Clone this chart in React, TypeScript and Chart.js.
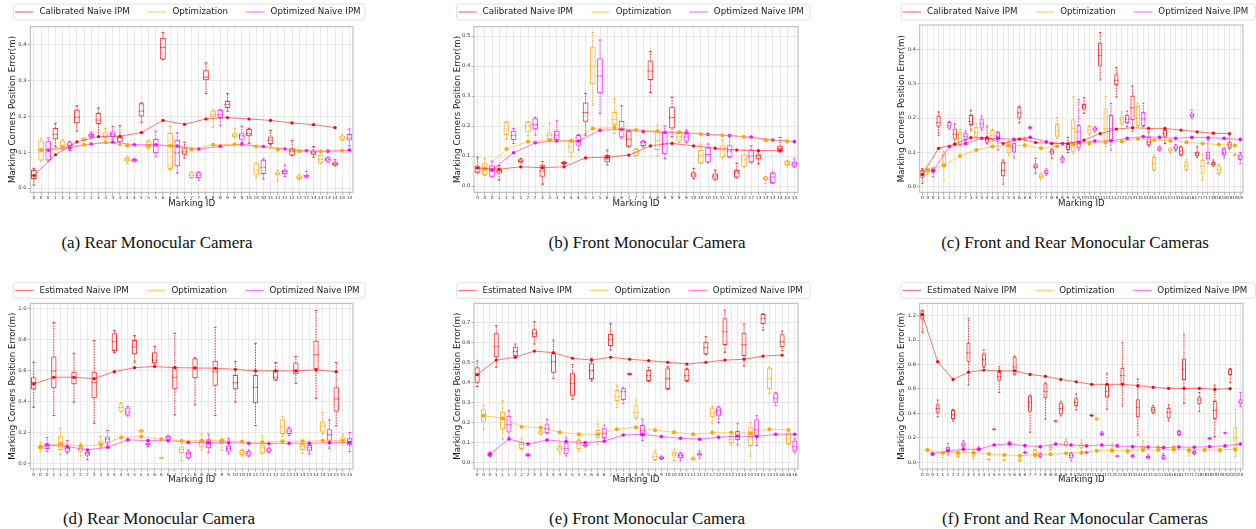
import React, { useEffect, useRef } from "react";
import { Chart, registerables } from "chart.js";

Chart.register(...registerables);

// Each box: [lower whisker, q1, median, q3, upper whisker]
type Box = number[];

// ---------------- series names ----------------
const namesTop = ["Calibrated Naive IPM", "Optimization", "Optimized Naive IPM"];
const namesBottom = ["Estimated Naive IPM", "Optimization", "Optimized Naive IPM"];

// ---------------- (a) Rear Monocular Camera (calibrated) ----------------
const aRedBoxes: Box[] = [
  [0.008, 0.025, 0.035, 0.05, 0.055], [0.115, 0.136, 0.15, 0.168, 0.181], [0.159, 0.181, 0.198, 0.219, 0.23],
  [0.142, 0.179, 0.19, 0.21, 0.224], [0.12, 0.128, 0.14, 0.145, 0.175], [0.184, 0.2, 0.215, 0.237, 0.238],
  [0.359, 0.359, 0.393, 0.42, 0.435], [0.084, 0.093, 0.101, 0.111, 0.128], [0.264, 0.301, 0.31, 0.329, 0.35],
  [0.215, 0.224, 0.234, 0.243, 0.264], [0.125, 0.145, 0.152, 0.165, 0.167], [0.12, 0.123, 0.134, 0.144, 0.161],
  [0.09, 0.091, 0.103, 0.111, 0.133], [0.086, 0.093, 0.098, 0.105, 0.116], [0.062, 0.063, 0.067, 0.072, 0.079],
];
const aRedLine = [0.035, 0.093, 0.129, 0.144, 0.145, 0.155, 0.189, 0.178, 0.193, 0.197, 0.193, 0.189, 0.182, 0.177, 0.169];
const aOrangeBoxes: Box[] = [
  [0.075, 0.077, 0.105, 0.133, 0.139], [0.109, 0.114, 0.12, 0.133, 0.135], [0.132, 0.135, 0.137, 0.139, 0.14],
  [0.137, 0.14, 0.148, 0.156, 0.167], [0.068, 0.074, 0.078, 0.084, 0.089], [0.108, 0.111, 0.12, 0.132, 0.134],
  [0.05, 0.053, 0.117, 0.154, 0.172], [0.027, 0.028, 0.035, 0.044, 0.045], [0.17, 0.198, 0.205, 0.217, 0.218],
  [0.14, 0.142, 0.148, 0.153, 0.167], [0.028, 0.035, 0.05, 0.069, 0.07], [0.02, 0.035, 0.04, 0.044, 0.05],
  [0.023, 0.025, 0.03, 0.035, 0.037], [0.068, 0.069, 0.08, 0.093, 0.1], [0.133, 0.135, 0.14, 0.147, 0.148],
];
const aOrangeLine = [0.106, 0.113, 0.121, 0.128, 0.118, 0.118, 0.118, 0.108, 0.121, 0.122, 0.116, 0.108, 0.103, 0.102, 0.104];
const aMagentaBoxes: Box[] = [
  [0.075, 0.077, 0.108, 0.131, 0.14], [0.105, 0.116, 0.12, 0.128, 0.13], [0.14, 0.142, 0.146, 0.151, 0.156],
  [0.135, 0.142, 0.15, 0.158, 0.172], [0.073, 0.074, 0.077, 0.081, 0.082], [0.089, 0.097, 0.118, 0.137, 0.159],
  [0.042, 0.061, 0.098, 0.135, 0.154], [0.022, 0.028, 0.036, 0.044, 0.045], [0.174, 0.196, 0.205, 0.219, 0.22],
  [0.128, 0.135, 0.146, 0.153, 0.173], [0.025, 0.039, 0.058, 0.079, 0.081], [0.032, 0.039, 0.046, 0.051, 0.064],
  [0.028, 0.03, 0.034, 0.037, 0.047], [0.072, 0.074, 0.08, 0.086, 0.087], [0.118, 0.133, 0.14, 0.151, 0.165],
];
const aMagentaLine = [0.106, 0.113, 0.123, 0.128, 0.121, 0.121, 0.117, 0.109, 0.117, 0.122, 0.116, 0.109, 0.104, 0.103, 0.106];
const aTicks = [0, 0.1, 0.2, 0.3, 0.4];

// ---------------- (b) Front Monocular Camera (calibrated) ----------------
const bRedBoxes: Box[] = [
  [0.044, 0.044, 0.06, 0.068, 0.096], [0.02, 0.042, 0.05, 0.056, 0.068], [0.077, 0.078, 0.083, 0.089, 0.092],
  [0.006, 0.031, 0.05, 0.071, 0.081], [0.072, 0.073, 0.077, 0.08, 0.082], [0.17, 0.214, 0.245, 0.278, 0.309],
  [0.07, 0.079, 0.09, 0.103, 0.12], [0.13, 0.131, 0.156, 0.184, 0.185], [0.312, 0.353, 0.383, 0.418, 0.448],
  [0.164, 0.192, 0.228, 0.264, 0.296], [0.024, 0.028, 0.037, 0.046, 0.059], [0.02, 0.022, 0.033, 0.042, 0.053],
  [0.027, 0.028, 0.044, 0.053, 0.076], [0.073, 0.089, 0.1, 0.106, 0.114], [0.113, 0.114, 0.125, 0.134, 0.162],
];
const bRedLine = [0.06, 0.056, 0.064, 0.061, 0.064, 0.094, 0.096, 0.103, 0.134, 0.142, 0.134, 0.126, 0.12, 0.118, 0.118];
const bOrangeBoxes: Box[] = [
  [0.035, 0.037, 0.053, 0.076, 0.092], [0.156, 0.17, 0.19, 0.214, 0.214], [0.167, 0.181, 0.2, 0.214, 0.215],
  [0.15, 0.153, 0.168, 0.178, 0.209], [0.098, 0.111, 0.13, 0.153, 0.155], [0.27, 0.34, 0.4, 0.464, 0.512],
  [0.176, 0.203, 0.222, 0.247, 0.291], [0.1, 0.1, 0.112, 0.123, 0.125], [0.1, 0.12, 0.152, 0.184, 0.203],
  [0.145, 0.148, 0.164, 0.181, 0.183], [0.075, 0.076, 0.103, 0.12, 0.14], [0.093, 0.096, 0.12, 0.136, 0.153],
  [0.063, 0.064, 0.087, 0.106, 0.118], [0.009, 0.02, 0.025, 0.031, 0.032], [0.067, 0.07, 0.077, 0.083, 0.085],
];
const bOrangeLine = [0.058, 0.123, 0.148, 0.153, 0.15, 0.192, 0.194, 0.187, 0.183, 0.179, 0.173, 0.169, 0.164, 0.153, 0.149];
const bMagentaBoxes: Box[] = [
  [0.03, 0.031, 0.052, 0.068, 0.083], [0.142, 0.153, 0.168, 0.184, 0.192], [0.17, 0.189, 0.205, 0.226, 0.229],
  [0.15, 0.153, 0.17, 0.184, 0.217], [0.12, 0.134, 0.15, 0.17, 0.172], [0.242, 0.309, 0.366, 0.426, 0.487],
  [0.16, 0.162, 0.19, 0.217, 0.267], [0.13, 0.133, 0.145, 0.151, 0.152], [0.092, 0.106, 0.142, 0.181, 0.2],
  [0.145, 0.148, 0.163, 0.181, 0.187], [0.077, 0.079, 0.105, 0.128, 0.14], [0.094, 0.096, 0.117, 0.136, 0.167],
  [0.077, 0.079, 0.1, 0.122, 0.134], [0.008, 0.009, 0.03, 0.044, 0.046], [0.063, 0.064, 0.073, 0.081, 0.09],
];
const bMagentaLine = [0.053, 0.111, 0.144, 0.15, 0.15, 0.186, 0.189, 0.182, 0.179, 0.177, 0.172, 0.168, 0.163, 0.153, 0.148];
const bTicks = [0, 0.1, 0.2, 0.3, 0.4, 0.5];

// ---------------- (c) Front and Rear Monocular Cameras (calibrated) ----------------
const cRedBoxes: Box[] = [
  [0.01, 0.026, 0.035, 0.049, 0.053], [0.15, 0.175, 0.187, 0.207, 0.218], [0.126, 0.138, 0.153, 0.17, 0.183],
  [0.165, 0.18, 0.19, 0.209, 0.223], [0.125, 0.128, 0.137, 0.146, 0.177], [0.008, 0.031, 0.048, 0.073, 0.078],
  [0.186, 0.199, 0.215, 0.233, 0.235], [0.039, 0.053, 0.058, 0.066, 0.083], [0.083, 0.094, 0.102, 0.109, 0.11],
  [0.1, 0.107, 0.115, 0.125, 0.144], [0.214, 0.225, 0.233, 0.241, 0.259], [0.311, 0.35, 0.382, 0.419, 0.449],
  [0.262, 0.296, 0.31, 0.328, 0.347], [0.162, 0.194, 0.23, 0.265, 0.294], [0.118, 0.121, 0.13, 0.146, 0.16],
  [0.126, 0.146, 0.155, 0.165, 0.168], [0.09, 0.092, 0.104, 0.117, 0.118], [0.086, 0.089, 0.096, 0.102, 0.117],
  [0.06, 0.062, 0.066, 0.072, 0.078], [0.11, 0.112, 0.122, 0.131, 0.155],
];
const cRedLine = [0.036, 0.112, 0.124, 0.143, 0.143, 0.126, 0.139, 0.129, 0.126, 0.126, 0.136, 0.155, 0.168, 0.172, 0.17, 0.17, 0.165, 0.16, 0.156, 0.155];
const cOrangeBoxes: Box[] = [
  [0.035, 0.039, 0.045, 0.051, 0.053], [0.017, 0.058, 0.065, 0.097, 0.102], [0.118, 0.121, 0.14, 0.16, 0.167],
  [0.14, 0.146, 0.158, 0.175, 0.184], [0.133, 0.136, 0.15, 0.165, 0.168], [0.09, 0.097, 0.117, 0.131, 0.134],
  [0.134, 0.136, 0.139, 0.142, 0.144], [0.022, 0.024, 0.03, 0.039, 0.04], [0.14, 0.146, 0.165, 0.183, 0.202],
  [0.097, 0.102, 0.17, 0.197, 0.262], [0.15, 0.153, 0.165, 0.177, 0.178], [0.117, 0.131, 0.17, 0.228, 0.262],
  [0.18, 0.184, 0.195, 0.204, 0.218], [0.175, 0.177, 0.2, 0.235, 0.243], [0.046, 0.049, 0.068, 0.087, 0.092],
  [0.098, 0.102, 0.107, 0.112, 0.114], [0.046, 0.049, 0.06, 0.073, 0.08], [0.019, 0.039, 0.06, 0.078, 0.095],
  [0.035, 0.037, 0.05, 0.063, 0.065], [0.091, 0.092, 0.093, 0.095, 0.096],
];
const cOrangeLine = [0.049, 0.063, 0.09, 0.107, 0.117, 0.12, 0.121, 0.112, 0.118, 0.123, 0.126, 0.13, 0.132, 0.14, 0.136, 0.134, 0.13, 0.126, 0.123, 0.12];
const cMagentaBoxes: Box[] = [
  [0.029, 0.041, 0.047, 0.053, 0.055], [0.168, 0.17, 0.178, 0.189, 0.19], [0.133, 0.136, 0.147, 0.157, 0.162],
  [0.165, 0.17, 0.183, 0.199, 0.206], [0.107, 0.136, 0.147, 0.16, 0.16], [0.084, 0.1, 0.115, 0.128, 0.141],
  [0.168, 0.169, 0.172, 0.175, 0.176], [0.034, 0.037, 0.043, 0.05, 0.052], [0.07, 0.073, 0.08, 0.087, 0.09],
  [0.107, 0.112, 0.16, 0.18, 0.254], [0.16, 0.163, 0.168, 0.173, 0.175], [0.107, 0.131, 0.17, 0.209, 0.243],
  [0.175, 0.186, 0.197, 0.209, 0.22], [0.175, 0.177, 0.198, 0.218, 0.243], [0.104, 0.105, 0.11, 0.117, 0.118],
  [0.104, 0.107, 0.114, 0.121, 0.123], [0.2, 0.202, 0.207, 0.214, 0.223], [0.068, 0.08, 0.09, 0.102, 0.136],
  [0.085, 0.092, 0.1, 0.112, 0.113], [0.068, 0.078, 0.087, 0.095, 0.1],
];
const cMagentaLine = [0.047, 0.117, 0.126, 0.141, 0.141, 0.138, 0.144, 0.131, 0.126, 0.129, 0.133, 0.134, 0.141, 0.146, 0.144, 0.141, 0.144, 0.143, 0.141, 0.138];
const cTicks = [0, 0.1, 0.2, 0.3, 0.4];

// ---------------- (d) Rear Monocular Camera (estimated) ----------------
const dRedBoxes: Box[] = [
  [0.361, 0.477, 0.52, 0.555, 0.652], [0.308, 0.484, 0.595, 0.688, 0.908], [0.394, 0.51, 0.55, 0.591, 0.71],
  [0.258, 0.419, 0.52, 0.591, 0.791], [0.714, 0.725, 0.785, 0.839, 0.856], [0.652, 0.703, 0.75, 0.796, 0.824],
  [0.64, 0.645, 0.665, 0.716, 0.753], [0.312, 0.477, 0.555, 0.624, 0.839], [0.376, 0.548, 0.615, 0.677, 0.68],
  [0.308, 0.5, 0.59, 0.662, 0.877], [0.394, 0.477, 0.52, 0.57, 0.656], [0.243, 0.387, 0.49, 0.57, 0.774],
  [0.535, 0.538, 0.555, 0.602, 0.65], [0.516, 0.574, 0.6, 0.65, 0.688], [0.419, 0.606, 0.7, 0.791, 0.985],
  [0.241, 0.333, 0.415, 0.49, 0.65],
];
const dRedLine = [0.512, 0.555, 0.555, 0.546, 0.591, 0.617, 0.624, 0.617, 0.615, 0.613, 0.606, 0.596, 0.596, 0.596, 0.602, 0.591];
const dOrangeBoxes: Box[] = [
  [0.075, 0.092, 0.103, 0.112, 0.133], [0.054, 0.086, 0.12, 0.178, 0.226], [0.047, 0.075, 0.09, 0.108, 0.129],
  [0.1, 0.118, 0.13, 0.146, 0.172], [0.33, 0.333, 0.36, 0.387, 0.391], [0.197, 0.2, 0.207, 0.215, 0.218],
  [0.029, 0.03, 0.034, 0.037, 0.038], [0.015, 0.065, 0.09, 0.108, 0.129], [0.086, 0.103, 0.135, 0.155, 0.189],
  [0.086, 0.125, 0.14, 0.155, 0.16], [0.047, 0.054, 0.07, 0.086, 0.09], [0.062, 0.065, 0.1, 0.118, 0.176],
  [0.172, 0.189, 0.235, 0.284, 0.301], [0.065, 0.086, 0.11, 0.125, 0.146], [0.19, 0.198, 0.24, 0.269, 0.327],
  [0.118, 0.133, 0.15, 0.172, 0.187],
];
const dOrangeLine = [0.108, 0.125, 0.112, 0.118, 0.166, 0.172, 0.155, 0.146, 0.146, 0.146, 0.14, 0.135, 0.142, 0.142, 0.146, 0.146];
const dMagentaBoxes: Box[] = [
  [0.075, 0.092, 0.112, 0.129, 0.166], [0.065, 0.075, 0.095, 0.108, 0.146], [0.022, 0.049, 0.063, 0.075, 0.09],
  [0.118, 0.133, 0.155, 0.172, 0.211], [0.305, 0.308, 0.33, 0.359, 0.366], [0.108, 0.118, 0.124, 0.129, 0.15],
  [0.148, 0.15, 0.165, 0.178, 0.18], [0.03, 0.032, 0.06, 0.075, 0.086], [0.071, 0.097, 0.13, 0.155, 0.189],
  [0.06, 0.075, 0.095, 0.114, 0.161], [0.045, 0.049, 0.065, 0.08, 0.085], [0.068, 0.071, 0.085, 0.097, 0.1],
  [0.178, 0.189, 0.208, 0.226, 0.232], [0.06, 0.08, 0.1, 0.118, 0.133], [0.097, 0.146, 0.185, 0.219, 0.28],
  [0.075, 0.114, 0.14, 0.161, 0.198],
];
const dMagentaLine = [0.118, 0.108, 0.086, 0.103, 0.151, 0.146, 0.146, 0.135, 0.133, 0.133, 0.129, 0.127, 0.129, 0.129, 0.133, 0.133];
const dTicks = [0, 0.2, 0.4, 0.6, 0.8, 1.0];

// ---------------- (e) Front Monocular Camera (estimated) ----------------
const eRedBoxes: Box[] = [
  [0.38, 0.4, 0.44, 0.477, 0.508], [0.477, 0.527, 0.58, 0.647, 0.685], [0.525, 0.533, 0.555, 0.58, 0.593],
  [0.593, 0.627, 0.645, 0.667, 0.705], [0.422, 0.45, 0.505, 0.547, 0.613], [0.317, 0.335, 0.395, 0.447, 0.49],
  [0.408, 0.418, 0.46, 0.497, 0.522], [0.563, 0.583, 0.615, 0.643, 0.697], [0.44, 0.44, 0.443, 0.447, 0.447],
  [0.405, 0.408, 0.435, 0.463, 0.477], [0.365, 0.368, 0.42, 0.472, 0.48], [0.405, 0.408, 0.435, 0.468, 0.472],
  [0.54, 0.542, 0.575, 0.605, 0.63], [0.552, 0.588, 0.655, 0.722, 0.763], [0.483, 0.533, 0.59, 0.65, 0.693],
  [0.663, 0.693, 0.722, 0.743, 0.745], [0.56, 0.577, 0.605, 0.642, 0.658],
];
const eRedLine = [0.44, 0.513, 0.527, 0.558, 0.55, 0.522, 0.513, 0.527, 0.517, 0.51, 0.502, 0.493, 0.502, 0.513, 0.517, 0.533, 0.538];
const eOrangeBoxes: Box[] = [
  [0.167, 0.205, 0.235, 0.267, 0.287], [0.117, 0.167, 0.22, 0.255, 0.31], [0.065, 0.068, 0.09, 0.103, 0.122],
  [0.14, 0.142, 0.152, 0.16, 0.162], [0.043, 0.055, 0.068, 0.083, 0.1], [0.058, 0.068, 0.095, 0.113, 0.118],
  [0.093, 0.122, 0.14, 0.163, 0.193], [0.275, 0.308, 0.33, 0.363, 0.388], [0.218, 0.222, 0.25, 0.287, 0.313],
  [0.01, 0.013, 0.03, 0.05, 0.063], [0.01, 0.03, 0.042, 0.055, 0.067], [0.012, 0.013, 0.02, 0.027, 0.028],
  [0.197, 0.227, 0.25, 0.272, 0.28], [0.092, 0.097, 0.115, 0.133, 0.147], [0.033, 0.083, 0.13, 0.177, 0.2],
  [0.347, 0.367, 0.42, 0.475, 0.477], [0.09, 0.093, 0.12, 0.15, 0.16],
];
const eOrangeLine = [0.235, 0.222, 0.18, 0.175, 0.152, 0.142, 0.142, 0.167, 0.177, 0.162, 0.152, 0.142, 0.15, 0.15, 0.147, 0.167, 0.163];
const eMagentaBoxes: Box[] = [
  [0.03, 0.033, 0.042, 0.05, 0.052], [0.127, 0.15, 0.19, 0.235, 0.26], [0.032, 0.033, 0.038, 0.043, 0.045],
  [0.145, 0.147, 0.17, 0.192, 0.217], [0.033, 0.042, 0.07, 0.1, 0.127], [0.078, 0.08, 0.085, 0.092, 0.095],
  [0.12, 0.122, 0.145, 0.172, 0.187], [0.297, 0.313, 0.355, 0.372, 0.375], [0.11, 0.133, 0.16, 0.188, 0.217],
  [0.016, 0.018, 0.025, 0.03, 0.033], [0.008, 0.022, 0.035, 0.047, 0.05], [0.022, 0.035, 0.04, 0.047, 0.058],
  [0.2, 0.235, 0.26, 0.277, 0.28], [0.088, 0.113, 0.13, 0.158, 0.197], [0.085, 0.133, 0.165, 0.217, 0.235],
  [0.285, 0.3, 0.322, 0.347, 0.35], [0.052, 0.055, 0.08, 0.11, 0.122],
];
const eMagentaLine = [0.043, 0.118, 0.093, 0.113, 0.105, 0.1, 0.107, 0.138, 0.142, 0.13, 0.122, 0.117, 0.127, 0.133, 0.13, 0.142, 0.142];
const eTicks = [0, 0.1, 0.2, 0.3, 0.4, 0.5, 0.6, 0.7];

// ---------------- (f) Front and Rear Monocular Cameras (estimated) ----------------
const fRedBoxes: Box[] = [
  [1.063, 1.169, 1.2, 1.245, 1.245], [0.373, 0.4, 0.44, 0.474, 0.51], [0.338, 0.354, 0.39, 0.428, 0.433],
  [0.632, 0.823, 0.9, 0.978, 1.177], [0.775, 0.782, 0.84, 0.891, 0.918], [0.572, 0.668, 0.7, 0.741, 0.782],
  [0.715, 0.719, 0.78, 0.864, 0.869], [0.245, 0.414, 0.49, 0.545, 0.55], [0.351, 0.523, 0.58, 0.646, 0.65],
  [0.38, 0.392, 0.44, 0.49, 0.496], [0.428, 0.46, 0.49, 0.523, 0.564], [0.375, 0.379, 0.383, 0.387, 0.39],
  [0.433, 0.531, 0.58, 0.64, 0.728], [0.46, 0.64, 0.71, 0.774, 0.978], [0.223, 0.368, 0.45, 0.515, 0.681],
  [0.4, 0.406, 0.43, 0.455, 0.463], [0.338, 0.36, 0.41, 0.447, 0.471], [0.482, 0.673, 0.76, 0.85, 1.049],
  [0.414, 0.474, 0.51, 0.537, 0.572], [0.21, 0.354, 0.425, 0.501, 0.632], [0.651, 0.714, 0.74, 0.763, 0.768],
];
const fRedLine = [1.21, 0.823, 0.678, 0.736, 0.755, 0.747, 0.749, 0.719, 0.703, 0.678, 0.659, 0.638, 0.638, 0.638, 0.627, 0.613, 0.605, 0.605, 0.605, 0.597, 0.602];
const fOrangeBoxes: Box[] = [
  [0.09, 0.093, 0.1, 0.109, 0.11], [0.038, 0.065, 0.072, 0.079, 0.087], [0.038, 0.041, 0.065, 0.087, 0.09],
  [0.025, 0.046, 0.07, 0.087, 0.106], [0.018, 0.019, 0.022, 0.025, 0.026], [0.016, 0.017, 0.019, 0.021, 0.022],
  [0.006, 0.008, 0.016, 0.025, 0.027], [0.041, 0.046, 0.07, 0.101, 0.105], [0.098, 0.101, 0.12, 0.136, 0.14],
  [0.13, 0.134, 0.155, 0.174, 0.188], [0.11, 0.114, 0.135, 0.155, 0.183], [0.344, 0.346, 0.357, 0.365, 0.368],
  [0.085, 0.087, 0.1, 0.12, 0.155], [0.075, 0.079, 0.087, 0.095, 0.1], [0.09, 0.095, 0.115, 0.134, 0.174],
  [0.095, 0.101, 0.12, 0.134, 0.136], [0.09, 0.095, 0.115, 0.134, 0.136], [0.052, 0.079, 0.09, 0.106, 0.11],
  [0.09, 0.093, 0.1, 0.109, 0.11], [0.085, 0.087, 0.098, 0.109, 0.11], [0.046, 0.087, 0.2, 0.286, 0.433],
];
const fOrangeLine = [0.101, 0.079, 0.079, 0.079, 0.068, 0.06, 0.054, 0.06, 0.065, 0.074, 0.079, 0.095, 0.095, 0.095, 0.101, 0.101, 0.106, 0.101, 0.101, 0.101, 0.106];
const fMagentaBoxes: Box[] = [
  [0.055, 0.06, 0.068, 0.079, 0.08], [0.06, 0.087, 0.105, 0.128, 0.155], [0.125, 0.128, 0.145, 0.161, 0.177],
  [0.098, 0.101, 0.11, 0.12, 0.125], [0.265, 0.267, 0.27, 0.273, 0.275], [0.148, 0.15, 0.16, 0.169, 0.172],
  [0.072, 0.074, 0.08, 0.087, 0.09], [0.038, 0.041, 0.058, 0.074, 0.076], [0.33, 0.332, 0.336, 0.341, 0.343],
  [0.011, 0.033, 0.055, 0.079, 0.08], [0.07, 0.074, 0.08, 0.087, 0.09], [0.22, 0.223, 0.235, 0.245, 0.25],
  [0.046, 0.048, 0.051, 0.054, 0.056], [0.038, 0.041, 0.05, 0.06, 0.063], [0.03, 0.033, 0.042, 0.052, 0.06],
  [0.025, 0.027, 0.043, 0.06, 0.07], [0.22, 0.223, 0.24, 0.256, 0.26], [0.065, 0.068, 0.08, 0.093, 0.095],
  [0.186, 0.188, 0.195, 0.202, 0.204], [0.235, 0.237, 0.24, 0.243, 0.245], [0.455, 0.474, 0.495, 0.515, 0.57],
];
const fMagentaLine = [0.068, 0.093, 0.106, 0.106, 0.142, 0.15, 0.136, 0.128, 0.15, 0.142, 0.134, 0.142, 0.134, 0.128, 0.125, 0.12, 0.125, 0.123, 0.128, 0.134, 0.15];
const fTicks = [0, 0.2, 0.4, 0.6, 0.8, 1.0, 1.2];

// ---------------- styling / layout ----------------
const FONT = "'DejaVu Sans', sans-serif";
const COLORS = ["255,0,0", "255,165,0", "255,0,255"];
const rgba = (c: string, a: number) => `rgba(${c},${a})`;
const TITLE_SIZE = 8.7;
const TITLE_HALF = (TITLE_SIZE * 1.2) / 2;

interface Layout {
  cell: { left: number; top: number; width: number; height: number };
  plot: { l: number; r: number; t: number; b: number };
  yTitleX: number;
  xTitleY: number;
  legend: { l: number; r: number; t: number; b: number };
  yRange: [number, number];
}

interface Panel {
  names: string[];
  boxes: Box[][];
  lines: number[][];
  ticks: number[];
  layout: Layout;
  caption: string;
  captionX: number;
  captionY: number;
}

const row1 = { top: 0, height: 215, plotT: 26.7, plotB: 192.3, xTitleY: 203.3, legT: 4, legB: 20, capY: 233.5 };
const row2 = { top: 270, height: 220, plotT: 303.3, plotB: 469, xTitleY: 480, legT: 282.7, legB: 298.3, capY: 509.5 };
const cols = [
  { left: 0, width: 420, plotL: 30.3, plotR: 353, yTitleX: 12.7, legL: 13.3, legR: 365, capX: 157 },
  { left: 420, width: 416, plotL: 474, plotR: 798, yTitleX: 457.3, legL: 456.5, legR: 810, capX: 647 },
  { left: 836, width: 420, plotL: 919.7, plotR: 1243, yTitleX: 902, legL: 901, legR: 1255.5, capX: 1075 },
];

const mkLayout = (r: typeof row1, c: typeof cols[0], yRange: [number, number], plotT?: number): Layout => ({
  cell: { left: c.left, top: r.top, width: c.width, height: r.height },
  plot: { l: c.plotL, r: c.plotR, t: plotT ?? r.plotT, b: r.plotB },
  yTitleX: c.yTitleX,
  xTitleY: r.xTitleY,
  legend: { l: c.legL, r: c.legR, t: r.legT, b: r.legB },
  yRange,
});

const panels: Panel[] = [
  {
    names: namesTop, boxes: [aRedBoxes, aOrangeBoxes, aMagentaBoxes], lines: [aRedLine, aOrangeLine, aMagentaLine],
    ticks: aTicks, layout: mkLayout(row1, cols[0], [-0.012, 0.451]),
    caption: "(a) Rear Monocular Camera", captionX: cols[0].capX, captionY: row1.capY,
  },
  {
    names: namesTop, boxes: [bRedBoxes, bOrangeBoxes, bMagentaBoxes], lines: [bRedLine, bOrangeLine, bMagentaLine],
    ticks: bTicks, layout: mkLayout(row1, cols[1], [-0.021, 0.531]),
    caption: "(b) Front Monocular Camera", captionX: cols[1].capX, captionY: row1.capY,
  },
  {
    names: namesTop, boxes: [cRedBoxes, cOrangeBoxes, cMagentaBoxes], lines: [cRedLine, cOrangeLine, cMagentaLine],
    ticks: cTicks, layout: mkLayout(row1, cols[2], [-0.016, 0.471], 25),
    caption: "(c) Front and Rear Monocular Cameras", captionX: cols[2].capX, captionY: row1.capY,
  },
  {
    names: namesBottom, boxes: [dRedBoxes, dOrangeBoxes, dMagentaBoxes], lines: [dRedLine, dOrangeLine, dMagentaLine],
    ticks: dTicks, layout: mkLayout(row2, cols[0], [-0.037, 1.032]),
    caption: "(d) Rear Monocular Camera", captionX: cols[0].capX + 2, captionY: row2.capY,
  },
  {
    names: namesBottom, boxes: [eRedBoxes, eOrangeBoxes, eMagentaBoxes], lines: [eRedLine, eOrangeLine, eMagentaLine],
    ticks: eTicks, layout: mkLayout(row2, cols[1], [-0.032, 0.797]),
    caption: "(e) Front Monocular Camera", captionX: cols[1].capX, captionY: row2.capY,
  },
  {
    names: namesBottom, boxes: [fRedBoxes, fOrangeBoxes, fMagentaBoxes], lines: [fRedLine, fOrangeLine, fMagentaLine],
    ticks: fTicks, layout: mkLayout(row2, cols[2], [-0.055, 1.301]),
    caption: "(f) Front and Rear Monocular Cameras", captionX: cols[2].capX, captionY: row2.capY,
  },
];

const BOX_FRACTION = 0.8;

function makeConfig(p: Panel): any {
  const n = p.lines[0].length;
  const labels = Array.from({ length: 3 * n }, (_, i) => String(Math.floor(i / 3)));
  const spread = (arr: any[], k: number) => labels.map((_, i) => (i % 3 === k ? arr[Math.floor(i / 3)] : null));
  const L = p.layout;
  const axisLeft = L.yTitleX - TITLE_HALF;
  const axisBottom = L.xTitleY + TITLE_HALF;
  const yAxisWidth = L.plot.l - axisLeft;
  const xAxisHeight = axisBottom - L.plot.b;
  const pointRadii = [1.6, 2.0, 1.8];

  const lineSets = p.names.map((name, k) => ({
    type: "line",
    label: name,
    data: spread(p.lines[k], k),
    borderColor: rgba(COLORS[k], 0.55),
    borderWidth: 1,
    pointRadius: pointRadii[k],
    pointBackgroundColor: rgba(COLORS[k], 1),
    pointBorderWidth: 0,
    pointHoverRadius: pointRadii[k],
    spanGaps: true,
    tension: 0,
    order: 0,
  }));
  const boxSets = p.names.map((name, k) => ({
    type: "bar",
    label: name + " (box)",
    data: spread(p.boxes[k].map((b) => [b[1], b[3]]), k),
    backgroundColor: "rgba(0,0,0,0)",
    borderColor: rgba(COLORS[k], 0.8),
    borderWidth: 1,
    borderSkipped: false,
    grouped: false,
    barPercentage: BOX_FRACTION,
    categoryPercentage: 1,
    order: 1,
  }));

  const whiskerPlugin = {
    id: "whiskers",
    beforeDatasetsDraw(chart: any) {
      const { ctx, scales } = chart;
      const xs = scales.x;
      const ys = scales.y;
      const step = xs.getPixelForValue(1) - xs.getPixelForValue(0);
      const half = (step * BOX_FRACTION) / 2;
      ctx.save();
      p.boxes.forEach((ser, k) => {
        ser.forEach((b, i) => {
          const cx = xs.getPixelForValue(3 * i + k);
          const [lo, q1, med, q3, hi] = b.map((v) => ys.getPixelForValue(v));
          ctx.strokeStyle = rgba(COLORS[k], 0.8);
          ctx.lineWidth = 1;
          ctx.setLineDash([1.5, 1.2]);
          ctx.beginPath();
          ctx.moveTo(cx, q1);
          ctx.lineTo(cx, lo);
          ctx.moveTo(cx, q3);
          ctx.lineTo(cx, hi);
          ctx.stroke();
          ctx.setLineDash([]);
          ctx.beginPath();
          ctx.moveTo(cx - half / 2, lo);
          ctx.lineTo(cx + half / 2, lo);
          ctx.moveTo(cx - half / 2, hi);
          ctx.lineTo(cx + half / 2, hi);
          ctx.stroke();
          ctx.setLineDash([2, 1]);
          ctx.beginPath();
          ctx.moveTo(cx - half, med);
          ctx.lineTo(cx + half, med);
          ctx.stroke();
          ctx.setLineDash([]);
        });
      });
      ctx.restore();
    },
    afterDraw(chart: any) {
      const { ctx, chartArea } = chart;
      ctx.save();
      // plot frame
      ctx.strokeStyle = "#b5b5b5";
      ctx.lineWidth = 1;
      ctx.strokeRect(chartArea.left, chartArea.top, chartArea.right - chartArea.left, chartArea.bottom - chartArea.top);
      // legend
      const ox = L.cell.left;
      const oy = L.cell.top;
      const lx = L.legend.l - ox;
      const rx = L.legend.r - ox;
      const ty = L.legend.t - oy;
      const by = L.legend.b - oy;
      const rad = 2.5;
      ctx.beginPath();
      ctx.moveTo(lx + rad, ty);
      ctx.lineTo(rx - rad, ty);
      ctx.quadraticCurveTo(rx, ty, rx, ty + rad);
      ctx.lineTo(rx, by - rad);
      ctx.quadraticCurveTo(rx, by, rx - rad, by);
      ctx.lineTo(lx + rad, by);
      ctx.quadraticCurveTo(lx, by, lx, by - rad);
      ctx.lineTo(lx, ty + rad);
      ctx.quadraticCurveTo(lx, ty, lx + rad, ty);
      ctx.closePath();
      ctx.fillStyle = "rgba(255,255,255,0.85)";
      ctx.fill();
      ctx.strokeStyle = "#d9d9d9";
      ctx.lineWidth = 0.8;
      ctx.stroke();
      ctx.font = `${TITLE_SIZE}px ${FONT}`;
      ctx.textBaseline = "middle";
      ctx.textAlign = "left";
      const cy = (ty + by) / 2;
      let x = lx + 1.8;
      p.names.forEach((name, k) => {
        ctx.strokeStyle = rgba(COLORS[k], 0.55);
        ctx.lineWidth = 1.2;
        ctx.beginPath();
        ctx.moveTo(x, cy);
        ctx.lineTo(x + 18.3, cy);
        ctx.stroke();
        ctx.fillStyle = "#222";
        ctx.fillText(name, x + 24.3, cy);
        x += 24.3 + ctx.measureText(name).width + 18.3;
      });
      ctx.restore();
    },
  };

  return {
    type: "bar",
    data: { labels, datasets: [...lineSets, ...boxSets] },
    options: {
      animation: false,
      responsive: false,
      maintainAspectRatio: false,
      devicePixelRatio: 1,
      layout: {
        padding: {
          left: axisLeft - L.cell.left,
          right: L.cell.left + L.cell.width - L.plot.r,
          top: L.plot.t - L.cell.top,
          bottom: L.cell.top + L.cell.height - axisBottom,
        },
      },
      plugins: { legend: { display: false }, tooltip: { enabled: false }, title: { display: false } },
      scales: {
        x: {
          type: "category",
          offset: true,
          grid: { offset: false, color: "#e3e3e3", lineWidth: 0.8, tickLength: 2.5, tickColor: "#9a9a9a", drawTicks: true },
          border: { display: false },
          ticks: { autoSkip: false, maxRotation: 0, minRotation: 0, padding: 0.5, color: "#333", font: { family: FONT, size: 4.3 } },
          title: { display: true, text: "Marking ID", color: "#222", padding: 0, font: { family: FONT, size: TITLE_SIZE } },
          afterFit: (s: any) => {
            s.height = xAxisHeight;
          },
        },
        y: {
          type: "linear",
          min: L.yRange[0],
          max: L.yRange[1],
          grid: { color: "#e3e3e3", lineWidth: 0.8, tickLength: 2.5, tickColor: "#9a9a9a", drawTicks: true },
          border: { display: false },
          ticks: {
            includeBounds: false,
            padding: 1.2,
            color: "#333",
            font: { family: FONT, size: 5.2 },
            callback: (v: any) => Number(v).toFixed(1),
          },
          afterBuildTicks: (s: any) => {
            s.ticks = p.ticks.map((v) => ({ value: v }));
          },
          title: { display: true, text: "Marking Corners Position Error(m)", color: "#222", padding: 0, font: { family: FONT, size: TITLE_SIZE } },
          afterFit: (s: any) => {
            s.width = yAxisWidth;
          },
        },
      },
    },
    plugins: [whiskerPlugin],
  };
}

function BoxChart({ panel }: { panel: Panel }) {
  const ref = useRef<HTMLCanvasElement | null>(null);
  useEffect(() => {
    if (!ref.current) return;
    const chart = new Chart(ref.current, makeConfig(panel));
    return () => chart.destroy();
  }, [panel]);
  const c = panel.layout.cell;
  return (
    <canvas
      ref={ref}
      width={c.width}
      height={c.height}
      style={{ position: "absolute", left: c.left, top: c.top, width: c.width, height: c.height }}
    />
  );
}

export default function App() {
  return (
    <div style={{ position: "absolute", left: 0, top: 0, width: 1256, height: 529, background: "#fff", overflow: "hidden" }}>
      {panels.map((p, i) => (
        <BoxChart key={i} panel={p} />
      ))}
      {panels.map((p, i) => (
        <div
          key={"cap" + i}
          style={{
            position: "absolute",
            left: p.captionX,
            top: p.captionY,
            transform: "translateX(-50%)",
            whiteSpace: "nowrap",
            fontFamily: "'Liberation Serif', 'Times New Roman', serif",
            fontSize: 17,
            lineHeight: "17px",
            color: "#111",
          }}
        >
          {p.caption}
        </div>
      ))}
    </div>
  );
}
